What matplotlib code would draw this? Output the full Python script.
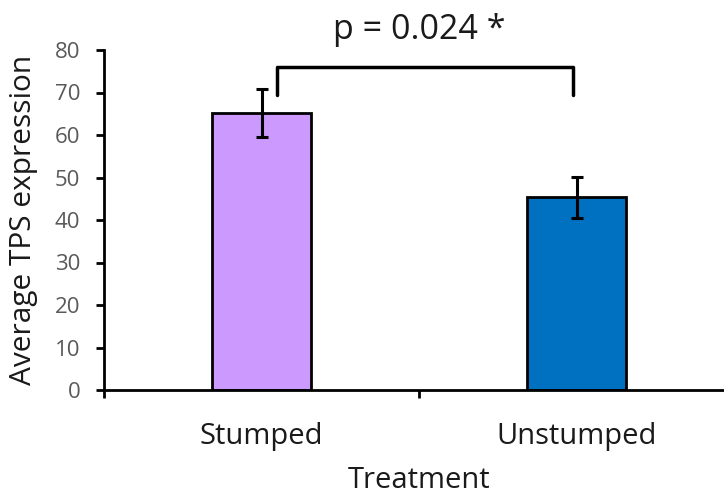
import matplotlib.pyplot as plt

plt.rcParams['font.family'] = ['Open Sans', 'DejaVu Sans']

categories = ['Stumped', 'Unstumped']
means = [65.2, 45.3]
errors = [5.65, 4.8]
colors = ['#cc99ff', '#0070c0']
p_text = 'p = 0.024 *'

fig = plt.figure(figsize=(7.24, 5), dpi=100)
# axis runs a bit past the right edge of the picture, like the original
ax = fig.add_axes([104 / 724, 0.22, 630 / 724, 0.68])

x = list(range(len(categories)))
ax.bar(x, means, width=0.314, color=colors, edgecolor='black', linewidth=2,
       yerr=errors, error_kw=dict(ecolor='black', elinewidth=2.2, capsize=4.5, capthick=2.2),
       zorder=2)

ax.set_xlim(-0.5, 1.5)
ax.set_ylim(0, 80)
ax.set_yticks(range(0, 81, 10))
ax.set_xticks(x)
ax.set_xticklabels(categories, fontsize=21)
ax.set_xticks([-0.5, 0.5, 1.5], minor=True)
ax.tick_params(axis='x', which='major', length=0, pad=23, labelcolor='#1a1a1a')
ax.tick_params(axis='x', which='minor', length=6, width=2, direction='out')
ax.tick_params(axis='y', length=6, width=2, direction='out', labelsize=16,
               labelcolor='#595959', pad=11)

for side in ['top', 'right']:
    ax.spines[side].set_visible(False)
ax.spines['left'].set_linewidth(2)
ax.spines['bottom'].set_linewidth(2)

ax.set_xlabel('Treatment', fontsize=21, labelpad=11, color='#1a1a1a')
ax.set_ylabel('Average TPS expression', fontsize=21.5, labelpad=12, color='#1a1a1a')

# significance bracket
bx0, bx1 = 0.049, 0.989
ytop, ybot = 76, 69.5
ax.plot([bx0, bx0, bx1, bx1], [ybot, ytop, ytop, ybot], color='black', lw=2.5,
        clip_on=False, solid_joinstyle='round', solid_capstyle='round')
ax.text(0.5, 84.7, p_text, ha='center', va='center', fontsize=24.5,
        color='#1a1a1a', clip_on=False)

fig.savefig('out.png', dpi=100)
